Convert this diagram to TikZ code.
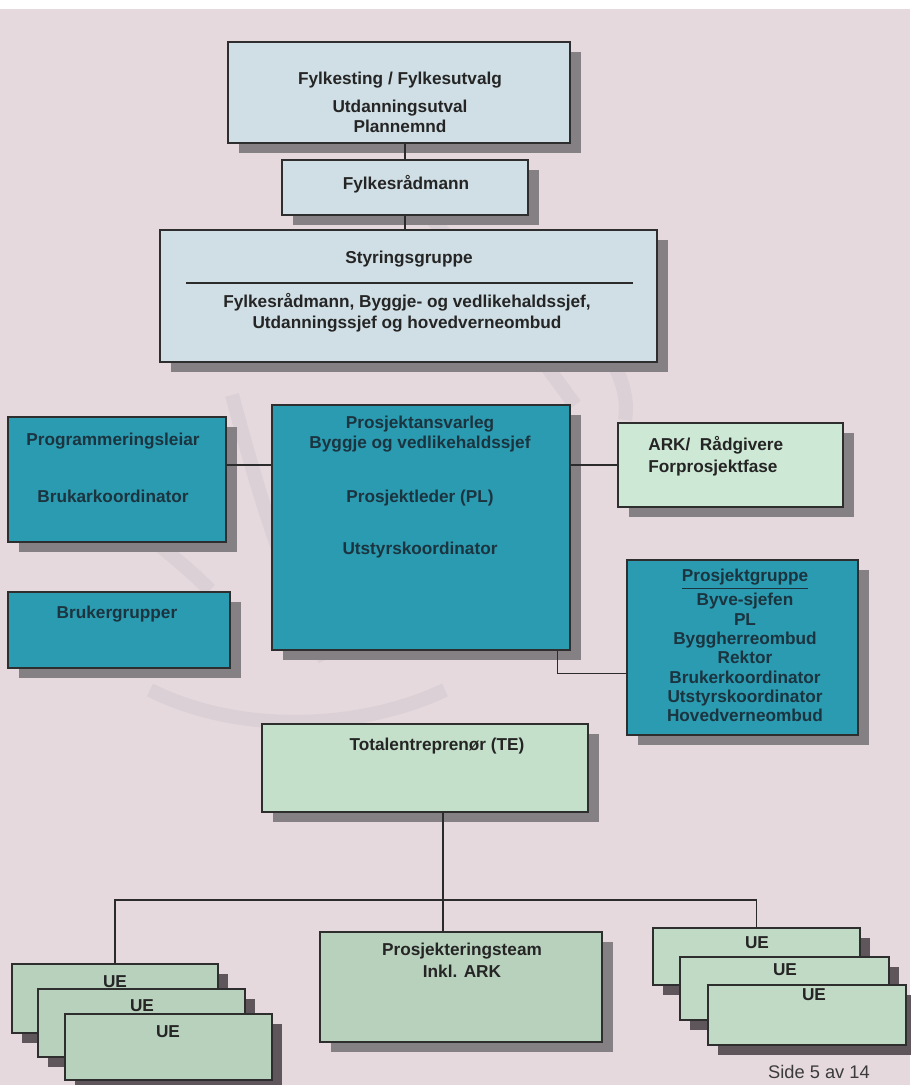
\documentclass[tikz,border=0pt]{standalone}
\usepackage{fontspec}
\setmainfont{Liberation Sans}
\usetikzlibrary{shadows,fit,calc}

\definecolor{paper}{HTML}{E5D9DE}
\definecolor{wm}{HTML}{D3CBCF}
\definecolor{lblue}{HTML}{CFDFE5}
\definecolor{tealc}{HTML}{2A9BB0}
\definecolor{lgreen}{HTML}{CDE8D4}
\definecolor{mgreen}{HTML}{C4E0CA}
\definecolor{dgreen}{HTML}{B8D1BD}
\definecolor{rgreen}{HTML}{C0DAC5}
\definecolor{shadowc}{HTML}{858084}
\definecolor{ushadow}{HTML}{5E565A}
\definecolor{boxline}{HTML}{2E2E2E}
\definecolor{ink}{HTML}{252525}
\definecolor{tealink}{HTML}{1B3440}
\definecolor{linec}{HTML}{2B2B2B}

\tikzset{
  box/.style={draw=boxline, line width=0.7pt, inner sep=0pt,
    drop shadow={shadow xshift=0.22cm, shadow yshift=-0.2cm, fill=shadowc, opacity=1}},
  ubox/.style={draw=boxline, line width=0.7pt, inner sep=0pt,
    drop shadow={shadow xshift=0.2cm, shadow yshift=-0.2cm, fill=ushadow, opacity=1}},
  bluebox/.style={box, fill=lblue},
  tealbox/.style={box, fill=tealc},
  arkbox/.style={box, fill=lgreen},
  tebox/.style={box, fill=mgreen},
  ptbox/.style={box, fill=dgreen},
  uel/.style={ubox, fill=dgreen},
  uer/.style={ubox, fill=rgreen},
  txt/.style={font=\bfseries\fontsize{9.8}{11.2}\selectfont, text=ink,
    align=center, inner sep=0pt, anchor=north},
  ttxt/.style={txt, text=tealink},
  link/.style={draw=linec, line width=0.8pt},
  wmark/.style={draw=wm, line width=8pt, opacity=0.6},
}

\begin{document}
\begin{tikzpicture}[x=0.02cm, y=-0.02cm]
  \useasboundingbox (0,0) rectangle (910,1085);
  % paper
  \fill[white] (0,0) rectangle (910,9);
  \fill[paper] (0,9) rectangle (910,1085);

  % faint logo ribbons printed behind the chart
  \draw[wmark] (415,200) .. controls (470,260) and (520,330) .. (575,405);
  \draw[wmark] (232,395) .. controls (255,480) and (280,570) .. (325,660);
  \draw[wmark] (110,500) .. controls (150,540) and (180,560) .. (210,590);
  \draw[wmark] (150,690) .. controls (240,735) and (360,730) .. (445,690);
  \draw[wmark] (590,330) .. controls (615,360) and (630,390) .. (625,420);

  % boxes
  \node[bluebox, fit={(228,42) (570,143)}]   (fyl)  {};
  \node[bluebox, fit={(282,160) (528,215)}]  (frad) {};
  \node[bluebox, fit={(160,230) (657,362)}]  (styr) {};
  \node[tealbox, fit={(8,417) (226,542)}]    (prog) {};
  \node[tealbox, fit={(8,592) (230,668)}]    (brug) {};
  \node[tealbox, fit={(272,405) (570,650)}]  (ctr)  {};
  \node[arkbox,  fit={(618,423) (843,507)}]  (ark)  {};
  \node[tealbox, fit={(627,560) (858,735)}]  (pg)   {};
  \node[tebox,   fit={(262,724) (588,812)}]  (te)   {};
  \node[ptbox,   fit={(320,932) (602,1042)}] (pt)   {};
  \node[uel, fit={(12,964) (218,1033)}]  (ueL1) {};
  \node[uel, fit={(38,989) (245,1057)}]  (ueL2) {};
  \node[uel, fit={(65,1014) (272,1080)}] (ueL3) {};
  \node[uer, fit={(653,928) (860,985)}]  (ueR1) {};
  \node[uer, fit={(680,957) (889,1020)}] (ueR2) {};
  \node[uer, fit={(708,985) (906,1045)}] (ueR3) {};

  % texts
  \node[txt] (fyl-t) at (400,72)
    {Fylkesting / Fylkesutvalg\\[4.5pt]Utdanningsutval\\Plannemnd};
  \node[txt] (frad-t) at (406,175) {Fylkesrådmann};
  \node[txt] (styr-t) at (409,251) {Styringsgruppe};
  \node[txt, font=\bfseries\fontsize{9.8}{12.2}\selectfont] (styr-m) at (407,293)
    {Fylkesrådmann, Byggje- og vedlikehaldssjef,\\Utdanningssjef og hovedverneombud};
  \node[ttxt] (prog-t) at (113,433) {Programmeringsleiar\\[21pt]Brukarkoordinator};
  \node[ttxt] (brug-t) at (117,606) {Brukergrupper};
  \node[ttxt] (ctr-t) at (420,416)
    {Prosjektansvarleg\\Byggje og vedlikehaldssjef\\[19.3pt]Prosjektleder (PL)\\[18.7pt]Utstyrskoordinator};
  \node[txt, align=left, anchor=north west, font=\bfseries\fontsize{9.8}{12.5}\selectfont]
    (ark-t) at (648,436) {ARK/\ \ Rådgivere\\Forprosjektfase};
  \node[ttxt, font=\bfseries\fontsize{9.8}{11}\selectfont] (pg-t) at (745,569)
    {\underline{Prosjektgruppe}\\[1.5pt]Byve-sjefen\\PL\\Byggherreombud\\Rektor\\Brukerkoordinator\\Utstyrskoordinator\\Hovedverneombud};
  \node[txt] (te-t) at (437,738) {Totalentreprenør (TE)};
  \node[txt, font=\bfseries\fontsize{9.8}{12.5}\selectfont] (pt-t) at (462,943)
    {Prosjekteringsteam\\Inkl. ARK};
  \node[txt] (ueL1-t) at (115,975)  {UE};
  \node[txt] (ueL2-t) at (142,999)  {UE};
  \node[txt] (ueL3-t) at (168,1025) {UE};
  \node[txt] (ueR1-t) at (757,936)  {UE};
  \node[txt] (ueR2-t) at (785,963)  {UE};
  \node[txt] (ueR3-t) at (814,988)  {UE};
  \node[font=\fontsize{10.4}{12}\selectfont, text=ink!90, inner sep=0pt] (side) at (819,1072) {Side 5 av 14};

  % styringsgruppe divider
  \draw[link] ($(styr.west)+(27,-13)$) -- ($(styr.east)+(-25,-13)$);

  % connectors
  \coordinate (bus) at (443,900);
  \draw[link] (frad.north) -- (frad.north |- fyl.south);
  \draw[link] (frad.south) -- (frad.south |- styr.north);
  \draw[link] ($(ctr.north)+(-3,0)$) -- ($(ctr.north)+(-3,0)$ |- styr.south);
  \draw[link] (prog.east |- ark.west) -- (ctr.west |- ark.west);
  \draw[link] (ctr.east |- ark.west) -- (ark.west);
  \draw[link] ($(prog.south)+(13,0)$) -- ($(prog.south)+(13,0)$ |- brug.north);
  \draw[link] ($(ctr.south east)+(-13,0)$) |- ($(pg.west)+(0,26)$);
  \draw[link] ($(ctr.south)+(14,0)$) -- ($(ctr.south)+(14,0)$ |- te.north);
  \draw[link] (bus |- te.south) -- (bus |- pt.north);
  \draw[link] (ueL1.north) |- (bus) -| (ueR1.north);
\end{tikzpicture}
\end{document}
